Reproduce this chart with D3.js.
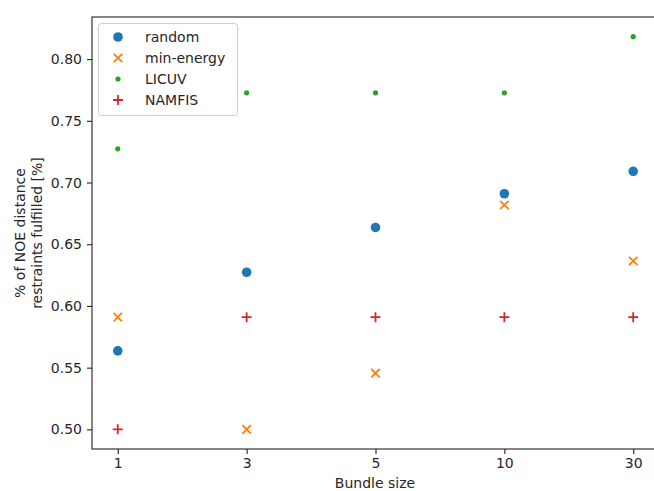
<!DOCTYPE html>
<html>
<head>
<meta charset="utf-8">
<script src="https://cdn.jsdelivr.net/npm/d3@7"></script>
<style>
  html, body { margin: 0; padding: 0; background: #fff; }
  svg { display: block; font-family: "DejaVu Sans", sans-serif; }
</style>
</head>
<body>
<svg id="chart" width="654" height="491"></svg>
<script>
// ---- data ----
const categories = ["1", "3", "5", "10", "30"];
const randomVals    = [0.5636, 0.6273, 0.6636, 0.6909, 0.7091];
const minEnergyVals = [0.5909, 0.5000, 0.5455, 0.6818, 0.6364];
const licuvVals     = [0.7273, 0.7727, 0.7727, 0.7727, 0.8182];
const namfisVals    = [0.5000, 0.5909, 0.5909, 0.5909, 0.5909];
const yTicks = [0.50, 0.55, 0.60, 0.65, 0.70, 0.75, 0.80];
const seriesNames = ["random", "min-energy", "LICUV", "NAMFIS"];

const series = [
  { name: seriesNames[0], values: randomVals,    color: "#1f77b4", marker: "circle" },
  { name: seriesNames[1], values: minEnergyVals, color: "#ff7f0e", marker: "x" },
  { name: seriesNames[2], values: licuvVals,     color: "#2ca02c", marker: "dot" },
  { name: seriesNames[3], values: namfisVals,    color: "#d62728", marker: "plus" }
];

// ---- layout ----
const svg = d3.select("#chart");
const mLeft = 92, mTop = 17, mRight = 659, mBottom = 449;

const x = d3.scaleLinear().domain([-0.2, categories.length - 1 + 0.2]).range([mLeft, mRight]);
const allVals = series.flatMap(s => s.values);
const ymin = d3.min(allVals), ymax = d3.max(allVals);
const pad = (ymax - ymin) * 0.05;
const y = d3.scaleLinear().domain([ymin - pad, ymax + pad]).range([mBottom, mTop]);

const textColor = "#262626";

// axes
const xAxis = d3.axisBottom(x)
  .tickValues(d3.range(categories.length))
  .tickFormat(i => categories[i])
  .tickSize(5).tickPadding(4);
const yAxis = d3.axisLeft(y)
  .tickValues(yTicks)
  .tickFormat(d3.format(".2f"))
  .tickSize(5).tickPadding(5);

const gx = svg.append("g").attr("transform", `translate(0,${mBottom})`).call(xAxis);
const gy = svg.append("g").attr("transform", `translate(${mLeft},0)`).call(yAxis);
[gx, gy].forEach(g => {
  g.select(".domain").remove();
  g.selectAll(".tick line").attr("stroke", "#222").attr("stroke-width", 1.1);
  g.selectAll(".tick text").attr("fill", textColor).style("font-size", "14px")
   .style("font-family", "DejaVu Sans, sans-serif");
});

// spines
svg.append("rect")
  .attr("x", mLeft).attr("y", mTop)
  .attr("width", mRight - mLeft).attr("height", mBottom - mTop)
  .attr("fill", "none").attr("stroke", "#222").attr("stroke-width", 1.1);

// markers
function drawMarker(g, type, color, cx, cy) {
  if (type === "circle") {
    g.append("circle").attr("cx", cx).attr("cy", cy).attr("r", 4.8).attr("fill", color);
  } else if (type === "dot") {
    g.append("circle").attr("cx", cx).attr("cy", cy).attr("r", 2.6).attr("fill", color);
  } else if (type === "x") {
    const s = 4.2;
    g.append("path")
      .attr("d", `M${cx - s},${cy - s}L${cx + s},${cy + s}M${cx - s},${cy + s}L${cx + s},${cy - s}`)
      .attr("stroke", color).attr("stroke-width", 1.8).attr("fill", "none");
  } else if (type === "plus") {
    const s = 5;
    g.append("path")
      .attr("d", `M${cx - s},${cy}L${cx + s},${cy}M${cx},${cy - s}L${cx},${cy + s}`)
      .attr("stroke", color).attr("stroke-width", 1.8).attr("fill", "none");
  }
}

const gm = svg.append("g");
series.forEach(s => {
  s.values.forEach((v, i) => drawMarker(gm, s.marker, s.color, x(i), y(v)));
});

// legend
const lg = svg.append("g");
lg.append("rect")
  .attr("x", 98.5).attr("y", 23.5).attr("width", 139).attr("height", 92)
  .attr("rx", 3).attr("fill", "#fff").attr("fill-opacity", 0.8)
  .attr("stroke", "#cccccc").attr("stroke-width", 1);
series.forEach((s, i) => {
  const cy = 37 + i * 21;
  drawMarker(lg, s.marker, s.color, 118, cy);
  lg.append("text").attr("x", 145).attr("y", cy).attr("dy", "0.35em")
    .attr("fill", textColor).style("font-size", "14px").text(s.name);
});

// axis labels
svg.append("text")
  .attr("x", 375).attr("y", 488)
  .attr("text-anchor", "middle").attr("fill", textColor)
  .style("font-size", "14px").text("Bundle size");

const yl = svg.append("text")
  .attr("transform", `translate(25,${(mTop + mBottom) / 2}) rotate(-90)`)
  .attr("text-anchor", "middle").attr("fill", textColor)
  .style("font-size", "14px");
yl.append("tspan").attr("x", 0).attr("dy", 0).text("% of NOE distance");
yl.append("tspan").attr("x", 0).attr("dy", "1.2em").text("restraints fulfilled [%]");
</script>
</body>
</html>
